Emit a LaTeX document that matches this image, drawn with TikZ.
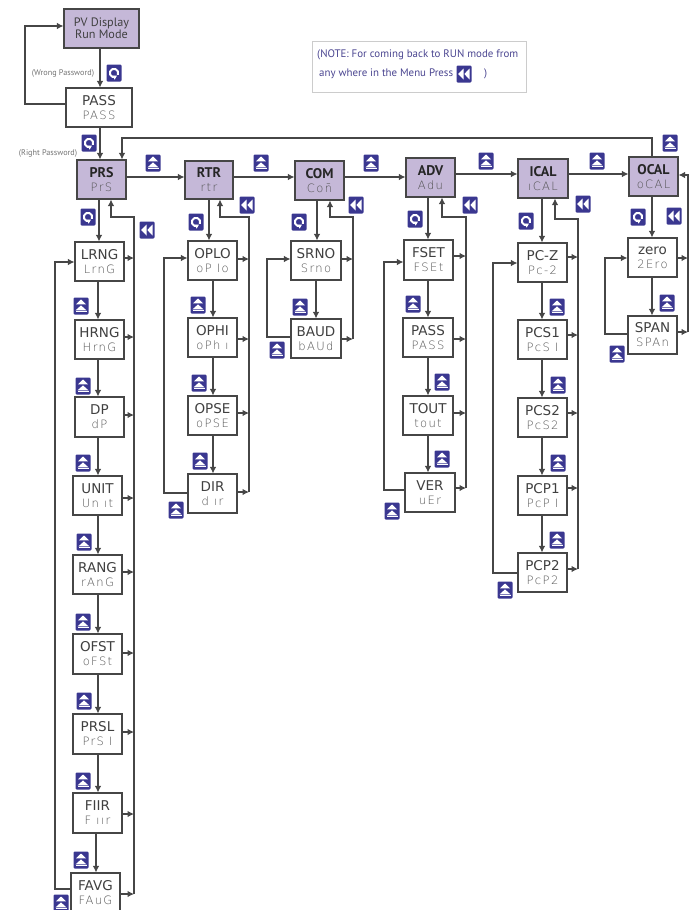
\documentclass[tikz,border=0pt]{standalone}
\usepackage{fontspec}
\usetikzlibrary{arrows.meta}
\setmainfont{DejaVu Sans}
\newfontfamily\nrw{PT Sans}
\newfontfamily\sg[LetterSpace=12]{DejaVu Sans ExtraLight}
\definecolor{ln}{HTML}{464646}
\definecolor{lil}{HTML}{C5B8D8}
\definecolor{ico}{HTML}{3A3790}
\definecolor{segc}{HTML}{505050}
\definecolor{notec}{HTML}{4A4590}
\newcommand\tp{\fontsize{13.5}{15}\selectfont}
\newcommand\hd{\nrw\bfseries\fontsize{14}{15}\selectfont\color{black!85}}
\newcommand\sgt{\sg\fontsize{11.5}{13}\selectfont\color{segc}}
\newcommand\pvf{\nrw\fontsize{12.2}{14.5}\selectfont}
\tikzset{
  bx/.style={draw=ln,line width=1.1pt,fill=white,inner sep=0pt,align=center,text=black!75},
  hbx/.style={bx,fill=lil},
  conn/.style={draw=ln,line width=1.1pt,-{Latex[length=6.5pt,width=6.5pt]}},
  icobg/.style={fill=ico,rounded corners=1.2pt},
  iup/.pic={
    \fill[icobg] (-7.5,-8.5) rectangle (7.5,8.5);
    \fill[white] (0,-6.5)--(5,-1.6)--(-5,-1.6)--cycle;
    \fill[white] (0,-0.6)--(5.5,4.4)--(-5.5,4.4)--cycle;
    \fill[white] (-5.5,5) rectangle (5.5,6);
  },
  iback/.pic={
    \fill[icobg] (-7.5,-8.5) rectangle (7.5,8.5);
    \fill[white] (-5.8,0)--(-0.5,-5.5)--(-0.5,5.5)--cycle;
    \fill[white] (0.3,0)--(5.6,-5.5)--(5.6,5.5)--cycle;
  },
  ienter/.pic={
    \fill[icobg] (-7.5,-8.5) rectangle (7.5,8.5);
    \draw[white,line width=1.9pt] (65:4.2) arc (65:385:4.2);
    \fill[white] (-1.6,2.6)--(3,2.6)--(0.7,6.6)--cycle;
  },
  lab/.style={inner sep=0pt,text=black!55,font=\nrw\fontsize{8.2}{9}\selectfont},
  notetxt/.style={inner sep=0pt,anchor=west,text=notec,font=\nrw\fontsize{10.9}{12}\selectfont}
}
% style, name, x1, y1, x2, y2, text
\newcommand\bxx[7]{\node[#1,minimum width=#5pt-#3pt,minimum height=#6pt-#4pt] (#2) at ({(#3+#5)/2},{(#4+#6)/2}) {#7};}
\newcommand\tb[2]{{\tp #1}\\[2pt]{\sgt #2}}
\newcommand\hb[2]{{\hd #1}\\[2pt]{\sgt #2}}
% from, to, x
\newcommand\vcon[3]{\coordinate (tmpx) at (#3,0); \draw[conn] (#1.south -| tmpx) -- (#2.north -| tmpx);}
% from, to, y
\newcommand\hcon[3]{\coordinate (tmpy) at (0,#3); \draw[conn] (#1.east |- tmpy) -- (#2.west |- tmpy);}
% from, y, x rail
\newcommand\side[3]{\coordinate (tmpy) at (#3,#2); \draw[conn] (#1.east |- tmpy) -- (tmpy);}
% from, y1, left x, to, y2
\newcommand\lret[5]{\coordinate (tmpa) at (0,#2); \coordinate (tmpb) at (0,#5); \coordinate (tmpc) at (#3,#2);
  \draw[conn] (#1.west |- tmpa) -- (tmpc) |- (#4.west |- tmpb);}
% rail bottom y, rail x, top y, head, x at head
\newcommand\rret[5]{\coordinate (tmpa) at (#2,#1); \coordinate (tmpb) at (#2,#3); \coordinate (tmpc) at (#5,#3); \coordinate (tmpd) at (#5,0);
  \draw[conn] (tmpa) -- (tmpb) -- (tmpc) -- (#4.south -| tmpd);}
\newcommand\icu[2]{\pic at (#1,#2) {iup};}
\newcommand\icb[2]{\pic at (#1,#2) {iback};}
\newcommand\ice[2]{\pic at (#1,#2) {ienter};}
\begin{document}
\begin{tikzpicture}[x=1pt,y=-1pt]
\clip (0,0) rectangle (699,910);
% main boxes
\bxx{hbx}{pv}{64}{9}{139}{48}{\pvf PV Display\\\pvf Run Mode}
\bxx{bx}{pass}{66}{88}{132}{127}{\tb{PASS}{PASS}}
\bxx{hbx}{prs}{77}{160}{126}{199}{\hb{PRS}{PrS}}
\bxx{hbx}{rtr}{185}{161}{233}{199}{\hb{RTR}{rtr}}
\bxx{hbx}{com}{295}{161}{344}{200}{\hb{COM}{Con̄}}
\bxx{hbx}{adv}{406}{158}{455}{197}{\hb{ADV}{Adu}}
\bxx{hbx}{ical}{518}{159}{568}{198}{\hb{ICAL}{ıCAL}}
\bxx{hbx}{ocal}{629}{157}{678}{196}{\hb{OCAL}{oCAL}}
% PRS column
\bxx{bx}{lrng}{75}{242}{124}{281}{\tb{LRNG}{LrnG}}
\bxx{bx}{hrng}{75}{320}{124}{359}{\tb{HRNG}{HrnG}}
\bxx{bx}{dp}{75}{397}{124}{437}{\tb{DP}{dP}}
\bxx{bx}{unit}{73}{476}{122}{515}{\tb{UNIT}{Un ıt}}
\bxx{bx}{rang}{73}{555}{122}{594}{\tb{RANG}{rAnG}}
\bxx{bx}{ofst}{73}{634}{122}{674}{\tb{OFST}{oFSt}}
\bxx{bx}{prsl}{73}{714}{122}{754}{\tb{PRSL}{PrS I}}
\bxx{bx}{fiir}{73}{793}{122}{833}{\tb{FIIR}{F ıır}}
\bxx{bx}{favg}{71}{873}{120}{912}{\tb{FAVG}{FAuG}}
% RTR column
\bxx{bx}{oplo}{188}{241}{237}{280}{\tb{OPLO}{oP Io}}
\bxx{bx}{ophi}{188}{318}{237}{357}{\tb{OPHI}{oPh ı}}
\bxx{bx}{opse}{188}{396}{237}{435}{\tb{OPSE}{oPSE}}
\bxx{bx}{dir}{188}{474}{237}{513}{\tb{DIR}{d ır}}
% COM column
\bxx{bx}{srno}{291}{241}{341}{280}{\tb{SRNO}{Srno}}
\bxx{bx}{baud}{291}{319}{341}{358}{\tb{BAUD}{bAUd}}
% ADV column
\bxx{bx}{fset}{404}{240}{453}{280}{\tb{FSET}{FSEt}}
\bxx{bx}{apass}{403}{318}{453}{357}{\tb{PASS}{PASS}}
\bxx{bx}{tout}{403}{396}{453}{435}{\tb{TOUT}{tout}}
\bxx{bx}{ver}{405}{473}{455}{512}{\tb{VER}{uEr}}
% ICAL column
\bxx{bx}{pcz}{518}{243}{567}{282}{\tb{PC-Z}{Pc-2}}
\bxx{bx}{pcsa}{518}{320}{567}{359}{\tb{PCS1}{PcS I}}
\bxx{bx}{pcsb}{518}{398}{567}{437}{\tb{PCS2}{PcS2}}
\bxx{bx}{pcpa}{518}{476}{567}{515}{\tb{PCP1}{PcP I}}
\bxx{bx}{pcpb}{518}{553}{567}{592}{\tb{PCP2}{PcP2}}
% OCAL column
\bxx{bx}{zero}{628}{238}{677}{277}{\tb{zero}{2Ero}}
\bxx{bx}{span}{628}{316}{677}{354}{\tb{SPAN}{SPAn}}
% top connectors
\vcon{pv}{pass}{100}
\vcon{pass}{prs}{100}
\coordinate (wa) at (25,104); \coordinate (wb) at (0,26);
\draw[conn] (pass.west |- wa) -- (wa) |- (pv.west |- wb);
\hcon{prs}{rtr}{177}
\hcon{rtr}{com}{177}
\hcon{com}{adv}{177}
\hcon{adv}{ical}{174}
\hcon{ical}{ocal}{174}
\coordinate (ta) at (652,138); \coordinate (tb) at (122,138); \coordinate (tc) at (122,0);
\draw[conn] (ocal.north -| ta) -- (ta) -- (tb) -- (prs.north -| tc);
% PRS column connectors
\vcon{prs}{lrng}{99}
\vcon{lrng}{hrng}{98}\vcon{hrng}{dp}{98}\vcon{dp}{unit}{98}\vcon{unit}{rang}{98}
\vcon{rang}{ofst}{98}\vcon{ofst}{prsl}{98}\vcon{prsl}{fiir}{98}\vcon{fiir}{favg}{96}
\lret{favg}{889}{55}{lrng}{262}
\rret{894}{134}{217}{prs}{111}
\side{lrng}{258}{134}\side{hrng}{337}{134}\side{dp}{415}{134}\side{unit}{498}{134}
\side{rang}{572}{134}\side{ofst}{653}{134}\side{prsl}{732}{134}\side{fiir}{814}{134}\side{favg}{894}{134}
% RTR
\vcon{rtr}{oplo}{209}
\vcon{oplo}{ophi}{213}\vcon{ophi}{opse}{213}\vcon{opse}{dir}{213}
\lret{dir}{493}{164}{oplo}{258}
\rret{492}{249}{217}{rtr}{220}
\side{oplo}{259}{249}\side{ophi}{339}{249}\side{opse}{413}{249}\side{dir}{492}{249}
% COM
\vcon{com}{srno}{317}\vcon{srno}{baud}{316}
\lret{baud}{337}{267}{srno}{259}
\rret{339}{353}{217}{com}{330}
\side{srno}{259}{353}\side{baud}{339}{353}
% ADV
\vcon{adv}{fset}{428}\vcon{fset}{apass}{428}\vcon{apass}{tout}{428}\vcon{tout}{ver}{428}
\lret{ver}{490}{384}{fset}{262}
\rret{488}{466}{217}{adv}{442}
\side{fset}{256}{466}\side{apass}{339}{466}\side{tout}{413}{466}\side{ver}{488}{466}
% ICAL
\vcon{ical}{pcz}{542}\vcon{pcz}{pcsa}{542}\vcon{pcsa}{pcsb}{542}\vcon{pcsb}{pcpa}{542}\vcon{pcpa}{pcpb}{542}
\lret{pcpb}{573}{493}{pcz}{263}
\rret{569}{578}{219}{ical}{555}
\side{pcz}{257}{578}\side{pcsa}{335}{578}\side{pcsb}{413}{578}\side{pcpa}{488}{578}\side{pcpb}{569}{578}
% OCAL
\vcon{ocal}{zero}{652}\vcon{zero}{span}{652}
\lret{span}{334}{605}{zero}{258}
\coordinate (oa) at (688,332); \coordinate (ob) at (688,175);
\draw[conn] (oa) -- (ob) -- (ocal.east |- ob);
\side{zero}{258}{688}\side{span}{332}{688}
% labels
\node[lab] (wrong) at (63,73) {(Wrong Password)};
\node[lab] (right) at (48,153) {(Right Password)};
% note
\node[draw=black!20,line width=0.7pt,minimum width=214pt,minimum height=51pt,inner sep=0pt] (notebox) at (419,66.5) {};
\node[notetxt] (notea) at (317,55) {(NOTE: For coming back to RUN mode from};
\node[notetxt] (noteb) at (319,74) {any where in the Menu Press};
\node[notetxt] (notec) at (484,74) {)};
\icb{464}{74}
% icons
\ice{114}{73}\ice{89}{143}\ice{88}{217}\ice{196}{222}\ice{299}{222}\ice{415}{219}\ice{526}{221}\ice{638}{217}
\icb{147}{230}\icb{247}{205}\icb{356}{205}\icb{470}{205}\icb{583}{204}\icb{674}{216}
\icu{153}{163}\icu{261}{163}\icu{371}{163}\icu{486}{161}\icu{597}{161}\icu{670}{143}
\icu{81}{306}\icu{83}{386}\icu{83}{463}\icu{84}{542}\icu{83}{622}\icu{84}{701}\icu{83}{781}\icu{81}{860}\icu{61}{903}
\icu{198}{305}\icu{199}{383}\icu{200}{461}\icu{176}{510}
\icu{300}{307}\icu{277}{350}
\icu{413}{304}\icu{442}{382}\icu{442}{459}\icu{392}{511}
\icu{557}{307}\icu{558}{385}\icu{558}{463}\icu{557}{540}\icu{505}{590}
\icu{667}{303}\icu{617}{354}
\end{tikzpicture}
\end{document}
